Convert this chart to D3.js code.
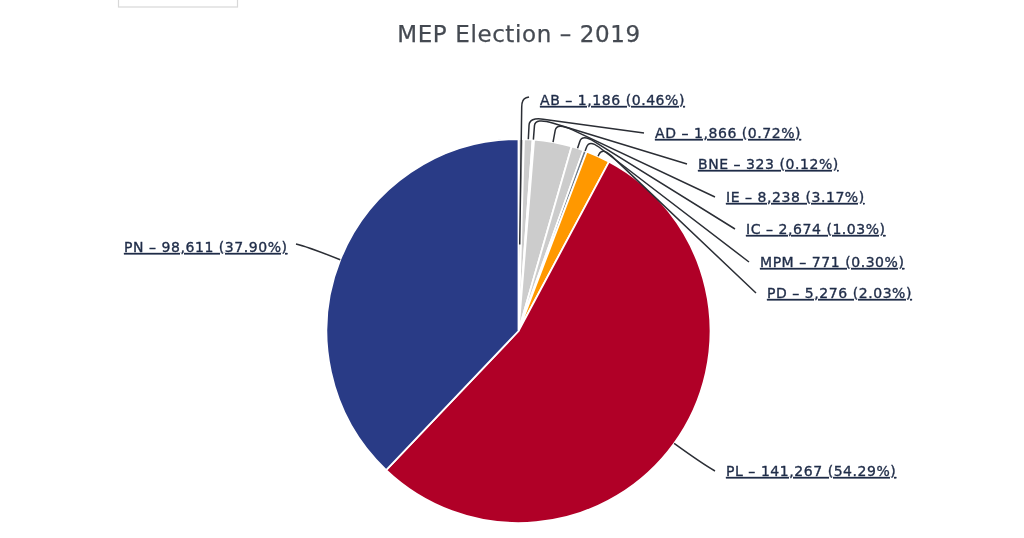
<!DOCTYPE html>
<html>
<head>
<meta charset="utf-8">
<script src="https://cdn.jsdelivr.net/npm/d3@7"></script>
<style>
  html, body { margin: 0; padding: 0; background: #fff; overflow: hidden; }
  svg { display: block; filter: blur(0.45px); }
</style>
</head>
<body>
<svg id="chart" width="1024" height="538"></svg>
<script>
const parties = ["AB", "AD", "BNE", "IE", "IC", "MPM", "PD", "PL", "PN"];
const votes = [1186, 1866, 323, 8238, 2674, 771, 5276, 141267, 98611];
const colors = ["#cccccc", "#cccccc", "#cccccc", "#cccccc", "#cccccc", "#6f7a86", "#ff9800", "#b00027", "#293b86"];

// label placement, same order as parties
const labelX = [540, 655, 698, 726, 746, 760, 767, 726, 124];
const labelY = [105, 138, 169, 202, 234, 267, 298, 476, 252];
// how far the connector leaves the slice before it bends
const elbow = [40, 22, 22, 20, 15, 12, 10, 0, 0];
// how quickly the bend rounds off
const rounding = [0.6, 0.12, 0.12, 0.1, 0.08, 0.06, 0.06, 0, 0];

const cx = 518.5, cy = 331, radius = 192;
const svg = d3.select("#chart");

// the empty box cut off by the top of the screenshot
svg.append("rect")
  .attr("x", 118.5).attr("y", -5)
  .attr("width", 119).attr("height", 12)
  .attr("fill", "#fff").attr("stroke", "#d8d8d8").attr("stroke-width", 1.2);

svg.append("text")
  .attr("x", 519).attr("y", 42)
  .attr("text-anchor", "middle")
  .attr("font-family", "'DejaVu Sans', sans-serif")
  .attr("font-size", 23)
  .attr("letter-spacing", 0.6)
  .attr("stroke", "#454a52")
  .attr("stroke-width", 0.25)
  .attr("fill", "#454a52")
  .text("MEP Election – 2019");

const pie = d3.pie().sort(null)(votes);
const total = d3.sum(votes);
const arc = d3.arc().innerRadius(0).outerRadius(radius);

const chart = svg.append("g").attr("transform", `translate(${cx},${cy})`);

chart.selectAll(".slice")
  .data(pie)
  .join("path")
  .attr("class", "slice")
  .attr("d", arc)
  .attr("fill", (d) => colors[d.index])
  .attr("stroke", "#fff")
  .attr("stroke-width", 1.8)
  .attr("stroke-linejoin", "round");

const midAngle = (d) => (d.startAngle + d.endAngle) / 2;

const connector = (d) => {
  const a = midAngle(d);
  const i = d.index;
  const end = [
    labelX[i] - (i === 8 ? -172 : 11) - cx,
    labelY[i] - (i === 0 ? 8 : 5) - cy + (i === 8 ? -3 : 0),
  ];
  const rim = d3.pointRadial(a, i === 0 ? radius * 0.45 : radius);
  if (elbow[i] === 0) {
    // big slices: short line with a soft bend near the label
    const out = d3.pointRadial(a, radius + 36);
    return `M${rim}Q${out} ${end}`;
  }
  const start = d3.pointRadial(a, radius + elbow[i] - 8);
  const bend = d3.pointRadial(a, radius + elbow[i]);
  const t = rounding[i];
  const after = [bend[0] + (end[0] - bend[0]) * t, bend[1] + (end[1] - bend[1]) * t];
  return `M${rim}L${start}Q${bend} ${after}L${end}`;
};

chart.selectAll(".connector")
  .data(pie)
  .join("path")
  .attr("class", "connector")
  .attr("d", connector)
  .attr("fill", "none")
  .attr("stroke", "#2b2e35")
  .attr("stroke-width", 1.5);

svg.selectAll(".label")
  .data(pie)
  .join("text")
  .attr("class", "label")
  .attr("x", (d) => labelX[d.index])
  .attr("y", (d) => labelY[d.index])
  .attr("font-family", "'DejaVu Sans', sans-serif")
  .attr("font-size", 14)
  .attr("letter-spacing", 0.55)
  .attr("stroke", "#1f2c48")
  .attr("stroke-width", 0.35)
  .attr("fill", "#1f2c48")
  .attr("text-decoration", "underline")
  .text((d) => `${parties[d.index]} – ${d3.format(",")(d.value)} (${d3.format(".2f")(d.value / total * 100)}%)`);
</script>
</body>
</html>
